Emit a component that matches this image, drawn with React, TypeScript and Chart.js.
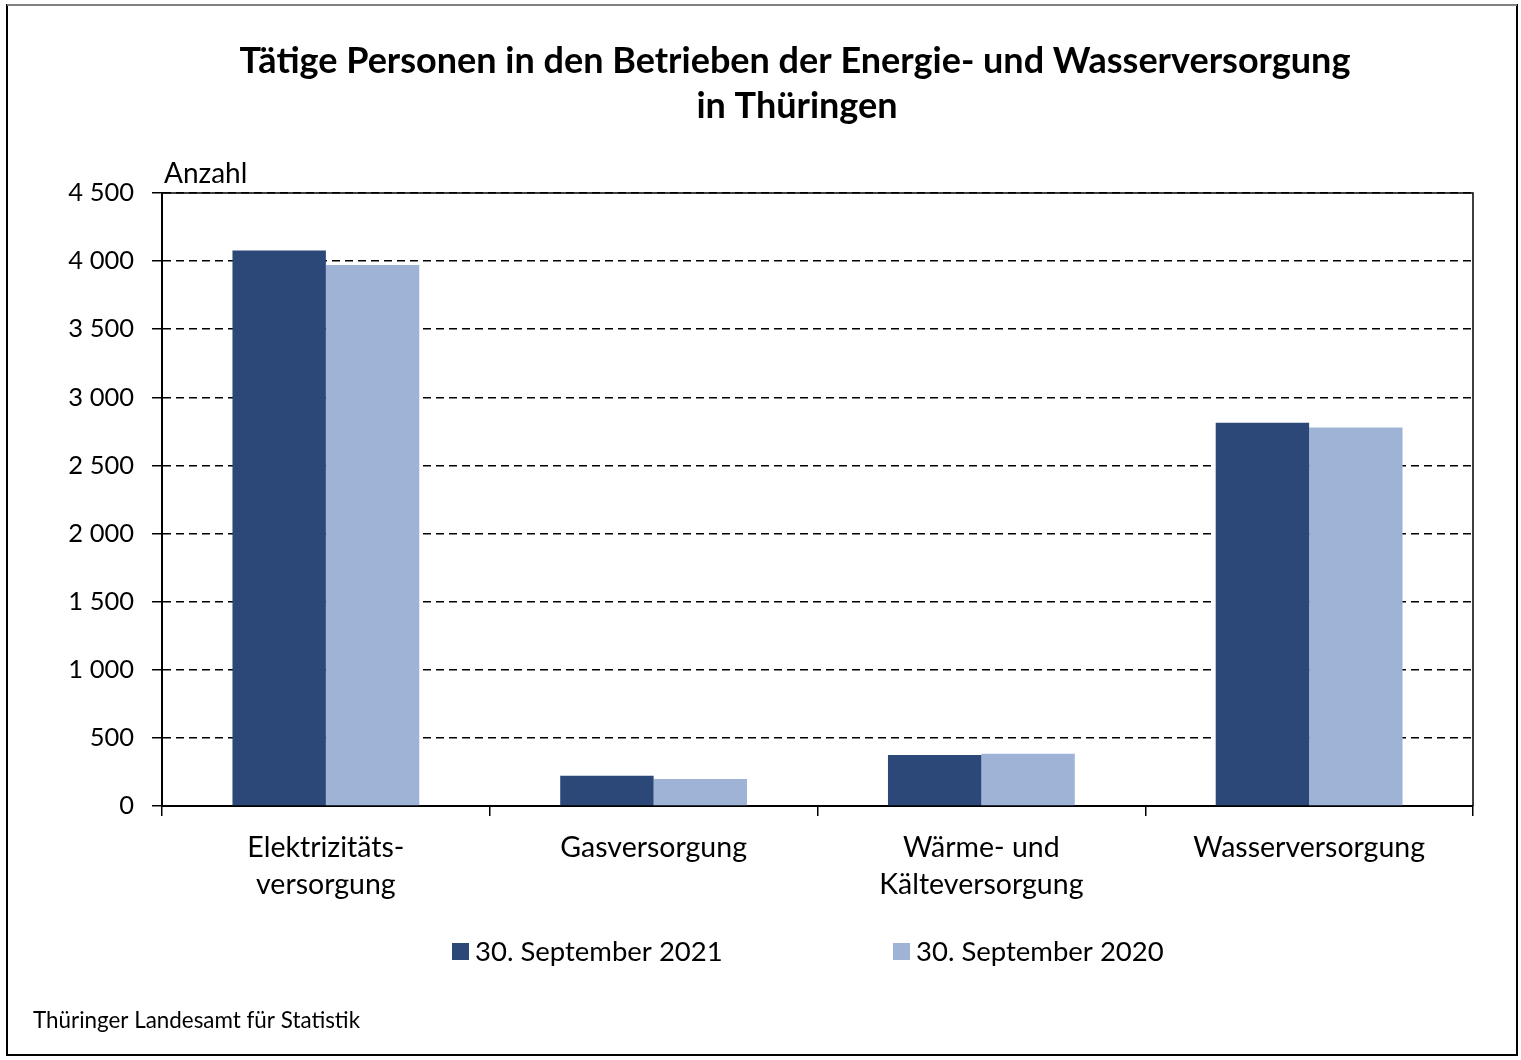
import { useEffect, useRef } from 'react';
import { Chart, registerables } from 'chart.js';

Chart.register(...registerables);

const categories = [
  ['Elektrizitäts-', 'versorgung'],
  ['Gasversorgung'],
  ['Wärme- und', 'Kälteversorgung'],
  ['Wasserversorgung'],
];

const values2021 = [4078, 222, 375, 2813];
const values2020 = [3972, 199, 384, 2779];

const seriesLabels = ['30. September 2021', '30. September 2020'];
const seriesColors = ['#2b4878', '#9eb3d5'];

const FONT = "Lato, 'Noto Sans', sans-serif";

// thousands separated by a space, as in the source
const formatTick = (v: number) =>
  String(v).replace(/\B(?=(\d{3})+(?!\d))/g, '\u00a0');

// frame, title, unit label, legend and source line
const decorations = {
  id: 'decorations',
  beforeDraw(chart: Chart) {
    const { ctx } = chart;
    ctx.save();
    ctx.fillStyle = '#fff';
    ctx.fillRect(0, 0, chart.width, chart.height);
    ctx.restore();
  },
  afterDraw(chart: Chart) {
    const { ctx, chartArea } = chart;
    ctx.save();

    // outer frame
    ctx.lineWidth = 2;
    ctx.strokeStyle = '#000';
    ctx.strokeRect(7, 5, 1510, 1050);
    ctx.strokeStyle = '#808080';
    ctx.beginPath();
    ctx.moveTo(7, 5);
    ctx.lineTo(1517, 5);
    ctx.stroke();

    // top and right edge of the plot area
    ctx.strokeStyle = '#000';
    ctx.lineWidth = 1.5;
    ctx.beginPath();
    ctx.moveTo(chartArea.left, chartArea.top);
    ctx.lineTo(chartArea.right, chartArea.top);
    ctx.lineTo(chartArea.right, chartArea.bottom);
    ctx.stroke();

    ctx.fillStyle = '#000';
    ctx.textBaseline = 'middle';

    ctx.font = `bold 36px ${FONT}`;
    ctx.textAlign = 'center';
    ctx.fillText('Tätige Personen in den Betrieben der Energie- und Wasserversorgung', 795, 61);
    ctx.fillText('in Thüringen', 797, 106);

    ctx.font = `28px ${FONT}`;
    ctx.textAlign = 'left';
    ctx.fillText('Anzahl', 164, 174);

    // legend
    ctx.font = `27.5px ${FONT}`;
    chart.data.datasets.forEach((ds, i) => {
      const x = 452 + i * 441;
      ctx.fillStyle = ds.backgroundColor as string;
      ctx.fillRect(x, 943, 17, 17);
      ctx.fillStyle = '#000';
      ctx.fillText(ds.label as string, x + 23, 952);
    });

    ctx.font = `22.4px ${FONT}`;
    ctx.fillText('Thüringer Landesamt für Statistik', 33, 1021);

    ctx.restore();
  },
};

const App = () => {
  const canvasRef = useRef<HTMLCanvasElement>(null);
  const chartRef = useRef<Chart | null>(null);

  useEffect(() => {
    document.body.style.margin = '0';
    if (!canvasRef.current) return;
    if (chartRef.current) chartRef.current.destroy();

    chartRef.current = new Chart(canvasRef.current, {
      type: 'bar',
      data: {
        labels: categories,
        datasets: [
          {
            label: seriesLabels[0],
            data: values2021,
            backgroundColor: seriesColors[0],
            categoryPercentage: 0.57,
            barPercentage: 1,
          },
          {
            label: seriesLabels[1],
            data: values2020,
            backgroundColor: seriesColors[1],
            categoryPercentage: 0.57,
            barPercentage: 1,
          },
        ],
      },
      options: {
        animation: false,
        responsive: false,
        maintainAspectRatio: false,
        layout: { padding: { left: 0, right: 48, top: 193, bottom: 104 } },
        plugins: {
          legend: { display: false },
          title: { display: false },
          tooltip: { enabled: false },
        },
        scales: {
          x: {
            offset: true,
            afterFit: (scale) => {
              scale.height = 150;
            },
            border: { display: true, color: '#000', width: 2 },
            grid: {
              offset: true,
              drawOnChartArea: false,
              drawTicks: true,
              tickLength: 10,
              color: '#000',
              lineWidth: 1.5,
            },
            ticks: {
              color: '#000',
              padding: 14,
              maxRotation: 0,
              font: { family: FONT, size: 28.5, lineHeight: 1.28 },
            },
          },
          y: {
            min: 0,
            max: 4500,
            afterFit: (scale) => {
              scale.width = 162;
            },
            border: { display: true, color: '#000', width: 2, dash: [8, 5] },
            grid: {
              color: '#000',
              lineWidth: 1.5,
              tickBorderDash: [],
              tickLength: 10,
              drawTicks: true,
            },
            ticks: {
              stepSize: 500,
              color: '#000',
              padding: 18,
              font: { family: FONT, size: 25.5 },
              callback: (v) => formatTick(Number(v)),
            },
          },
        },
      },
      plugins: [decorations],
    });

    return () => {
      if (chartRef.current) {
        chartRef.current.destroy();
        chartRef.current = null;
      }
    };
  }, []);

  return (
    <div style={{ width: 1521, height: 1060 }}>
      <canvas ref={canvasRef} width={1521} height={1060} />
    </div>
  );
};

export default App;
